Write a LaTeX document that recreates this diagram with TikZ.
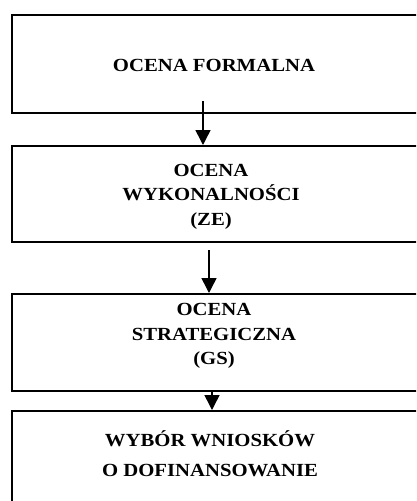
\documentclass[tikz,border=0pt]{standalone}
\usepackage{fontspec}
\setmainfont{Liberation Serif}[FakeStretch=1.12]
\usetikzlibrary{arrows.meta}
\tikzset{
  stagebox/.style={draw=black, line width=2pt, rectangle, inner sep=0pt, anchor=north west, minimum width=430pt},
  stagetext/.style={align=center, font=\fontsize{18.5}{24.5}\selectfont\bfseries, inner sep=0pt},
  flowarrow/.style={line width=1.5pt, -{Triangle[length=15pt,width=15pt]}}
}
\begin{document}
\begin{tikzpicture}[x=1pt,y=-1pt]
\useasboundingbox (0,0) rectangle (416,501);
\clip (0,0) rectangle (416,501);
\node[stagebox, minimum height=98pt] (b1) at (11,14) {};
\node[stagebox, minimum height=96pt] (b2) at (11,145) {};
\node[stagebox, minimum height=97pt] (b3) at (11,293) {};
\node[stagebox, minimum height=120pt] (b4) at (11,410) {};
\node[stagetext] (t1) at (214,65.5) {OCENA FORMALNA};
\node[stagetext] (t2) at (211,196.5) {OCENA\\WYKONALNOŚCI\\(ZE)};
\node[stagetext] (t3) at (214,336) {OCENA\\STRATEGICZNA\\(GS)};
\node[stagetext, font=\fontsize{18.5}{30}\selectfont\bfseries] (t4) at (210,454) {WYBÓR WNIOSKÓW\\O DOFINANSOWANIE};
\coordinate (s1) at (203,101);
\coordinate (s2) at (209,250);
\coordinate (s3) at (212,390);
\draw[flowarrow] (s1) -- (s1 |- b2.north);
\draw[flowarrow] (s2) -- (s2 |- b3.north);
\draw[flowarrow] (s3) -- (s3 |- b4.north);
\end{tikzpicture}
\end{document}
